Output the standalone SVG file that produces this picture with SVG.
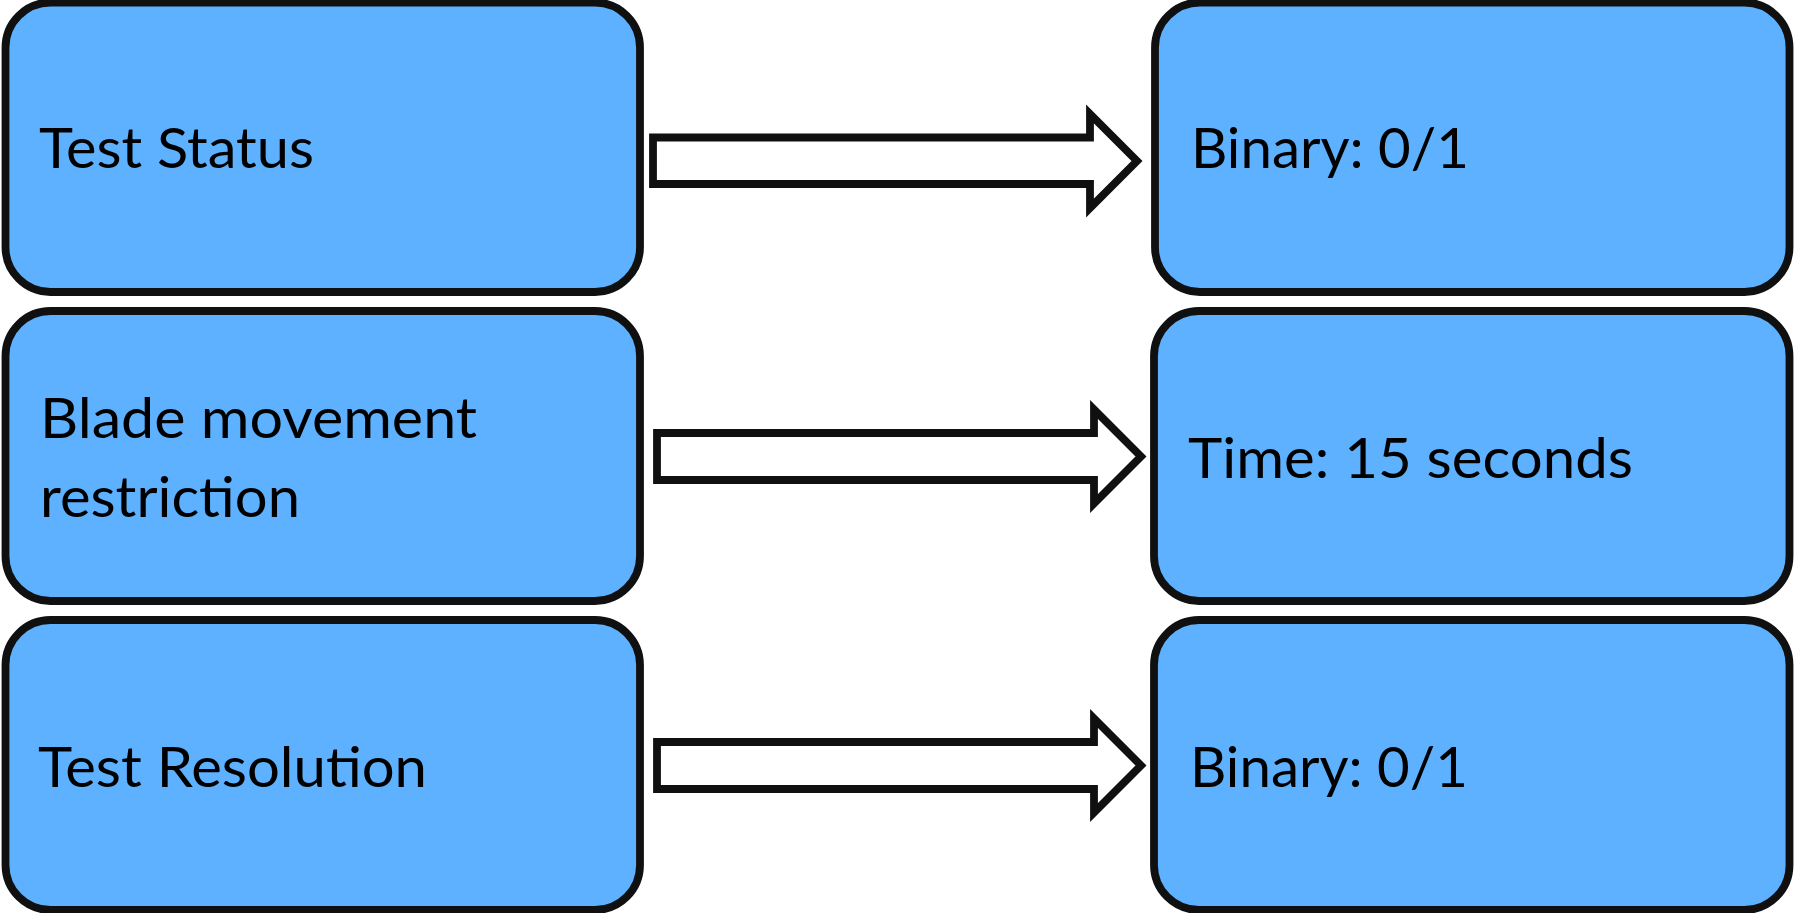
<svg xmlns="http://www.w3.org/2000/svg" width="1794" height="913" viewBox="0 0 1794 913">
  <style>
    .box { fill: #5DB1FE; stroke: #101010; stroke-width: 7.8; }
    .arrow { fill: #FFFFFF; stroke: #101010; stroke-width: 7.8; stroke-linejoin: miter; stroke-miterlimit: 10; }
    .label { font-family: Lato, "Open Sans", "Liberation Sans", sans-serif; font-size: 57px; fill: #000000; }
  </style>
  <rect width="1794" height="913" fill="#FFFFFF"/>

  <!-- left column: parameters -->
  <g id="test-status">
    <rect class="box" x="5.5" y="2.5" width="634.5" height="289.5" rx="45" ry="45"/>
    <text class="label" x="39" y="168" textLength="275" lengthAdjust="spacingAndGlyphs">Test Status</text>
  </g>
  <g id="blade-movement">
    <rect class="box" x="5.5" y="311" width="634.5" height="290" rx="45" ry="45"/>
    <text class="label" x="40" y="438" textLength="437" lengthAdjust="spacingAndGlyphs">Blade movement</text>
    <text class="label" x="40" y="517" textLength="260" lengthAdjust="spacingAndGlyphs">restriction</text>
  </g>
  <g id="test-resolution">
    <rect class="box" x="5.5" y="620" width="634.5" height="290" rx="45" ry="45"/>
    <text class="label" x="38" y="787" textLength="389" lengthAdjust="spacingAndGlyphs">Test Resolution</text>
  </g>

  <!-- right column: measured values -->
  <g id="status-value">
    <rect class="box" x="1155" y="2.5" width="634.5" height="289.5" rx="45" ry="45"/>
    <text class="label" x="1191" y="168" textLength="278" lengthAdjust="spacingAndGlyphs">Binary: 0/1</text>
  </g>
  <g id="movement-value">
    <rect class="box" x="1154" y="311" width="635.5" height="290" rx="45" ry="45"/>
    <text class="label" x="1188" y="478" textLength="445" lengthAdjust="spacingAndGlyphs">Time: 15 seconds</text>
  </g>
  <g id="resolution-value">
    <rect class="box" x="1154" y="620" width="635.5" height="290" rx="45" ry="45"/>
    <text class="label" x="1190" y="787" textLength="278" lengthAdjust="spacingAndGlyphs">Binary: 0/1</text>
  </g>

  <!-- block arrows linking each parameter to its value -->
  <g id="connectors">
    <polygon class="arrow" points="653,137.5 1090,137.5 1090,114 1137,161 1090,208 1090,184 653,184"/>
    <polygon class="arrow" points="657,433 1094,433 1094,409.5 1141,456.5 1094,503.5 1094,480 657,480"/>
    <polygon class="arrow" points="657,742 1094,742 1094,718.5 1141,765.5 1094,812.5 1094,789 657,789"/>
  </g>
</svg>
